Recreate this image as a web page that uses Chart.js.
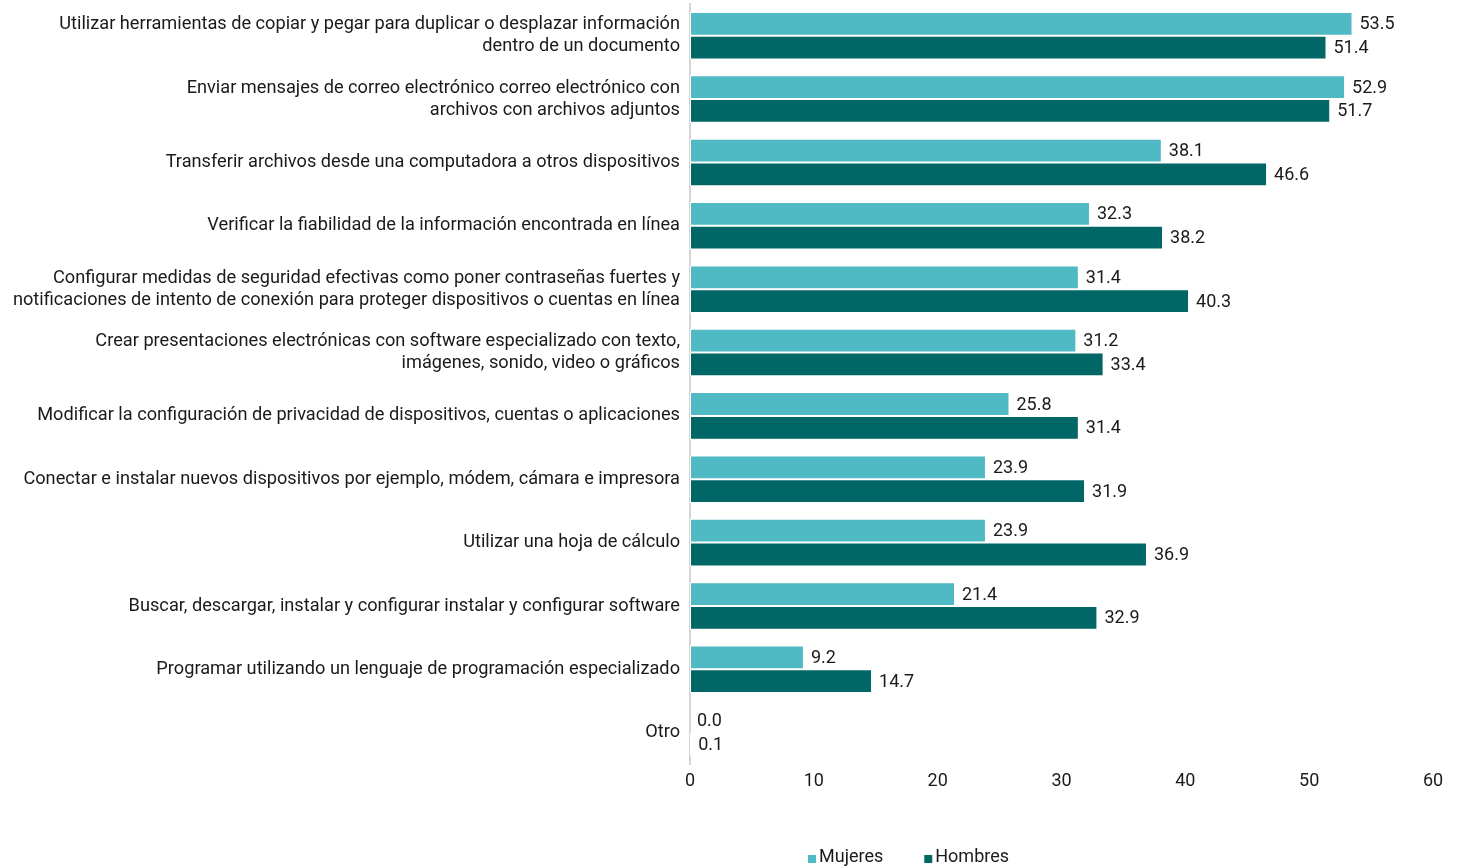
<!DOCTYPE html>
<html lang="es">
<head>
<meta charset="utf-8">
<script src="https://cdn.jsdelivr.net/npm/chart.js@4/dist/chart.umd.min.js"></script>
<style>
	html, body { margin: 0; padding: 0; background: #fff; }
	#wrap { width: 1460px; height: 867px; position: relative; }
</style>
</head>
<body>
<div id="wrap"><canvas id="habilidades"></canvas></div>
<script>
// categorías (con saltos de línea)
const categorias = [
	['Utilizar herramientas de copiar y pegar para duplicar o desplazar información', 'dentro de un documento'],
	['Enviar mensajes de correo electrónico correo electrónico con', 'archivos con archivos adjuntos'],
	'Transferir archivos desde una computadora a otros dispositivos',
	'Verificar la fiabilidad de la información encontrada en línea',
	['Configurar medidas de seguridad efectivas como poner contraseñas fuertes y', 'notificaciones de intento de conexión para proteger dispositivos o cuentas en línea'],
	['Crear presentaciones electrónicas con software especializado con texto,', 'imágenes, sonido, video o gráficos'],
	'Modificar la configuración de privacidad de dispositivos, cuentas o aplicaciones',
	'Conectar e instalar nuevos dispositivos por ejemplo, módem, cámara e impresora',
	'Utilizar una hoja de cálculo',
	'Buscar, descargar, instalar y configurar instalar y configurar software',
	'Programar utilizando un lenguaje de programación especializado',
	'Otro'
];

// porcentajes
const mujeres = [53.5, 52.9, 38.1, 32.3, 31.4, 31.2, 25.8, 23.9, 23.9, 21.4, 9.2, 0.0];
const hombres = [51.4, 51.7, 46.6, 38.2, 40.3, 33.4, 31.4, 31.9, 36.9, 32.9, 14.7, 0.1];

const ticksX = [0, 10, 20, 30, 40, 50, 60];

const fuente = "Roboto, 'Liberation Sans', sans-serif";
const colorTexto = '#1a1a1a';

// etiquetas de valor al final de cada barra
const etiquetasValor = {
	id: 'etiquetasValor',
	afterDatasetsDraw(chart) {
		const ctx = chart.ctx;
		ctx.save();
		ctx.font = '18px ' + fuente;
		ctx.fillStyle = colorTexto;
		ctx.textAlign = 'left';
		ctx.textBaseline = 'middle';
		chart.data.datasets.forEach((ds, i) => {
			chart.getDatasetMeta(i).data.forEach((bar, j) => {
				ctx.fillText(ds.data[j].toFixed(1), bar.x + 7, bar.y + 1);
			});
		});
		ctx.restore();
	}
};

// leyenda inferior con cuadritos pegados al texto
const leyendaAbajo = {
	id: 'leyendaAbajo',
	afterDraw(chart) {
		const ctx = chart.ctx;
		ctx.save();
		ctx.font = '18px ' + fuente;
		ctx.textBaseline = 'middle';
		ctx.textAlign = 'left';
		let x = 808;
		const y = 857;
		chart.data.datasets.forEach(ds => {
			ctx.fillStyle = ds.backgroundColor;
			ctx.fillRect(x, y - 2, 8, 8);
			ctx.fillStyle = colorTexto;
			ctx.fillText(ds.label, x + 11, y);
			x += 11 + ctx.measureText(ds.label).width + 41;
		});
		ctx.restore();
	}
};

const ctx = document.getElementById('habilidades');
let grafico = new Chart(ctx, {
	type: 'bar',
	data: {
		labels: categorias,
		datasets: [
			{
				label: 'Mujeres',
				data: mujeres,
				backgroundColor: '#4fbac4',
				borderColor: '#ffffff',
				borderWidth: 1,
				borderSkipped: false,
				categoryPercentage: 0.75,
				barPercentage: 1
			},
			{
				label: 'Hombres',
				data: hombres,
				backgroundColor: '#016766',
				borderColor: '#ffffff',
				borderWidth: 1,
				borderSkipped: false,
				categoryPercentage: 0.75,
				barPercentage: 1
			}
		]
	},
	options: {
		indexAxis: 'y',
		responsive: true,
		maintainAspectRatio: false,
		animation: false,
		layout: { padding: { top: 4, right: 27, left: 0, bottom: 69 } },
		scales: {
			x: {
				min: 0,
				max: 60,
				afterBuildTicks(axis) { axis.ticks = ticksX.map(v => ({ value: v })); },
				afterFit(axis) { axis.paddingLeft = 0; axis.paddingRight = 0; },
				grid: { display: false, drawTicks: false },
				border: { display: false },
				ticks: { color: colorTexto, font: { family: fuente, size: 18 }, padding: 6 }
			},
			y: {
				afterFit(axis) { axis.width = 690; axis.paddingTop = 0; axis.paddingBottom = 0; },
				grid: { display: false, drawTicks: false },
				border: { display: true, color: '#d4d4d4', width: 2 },
				ticks: { color: colorTexto, font: { family: fuente, size: 18.2, lineHeight: 1.22 }, padding: 10, autoSkip: false }
			}
		},
		plugins: {
			legend: { display: false },
			tooltip: { enabled: false }
		}
	},
	plugins: [etiquetasValor, leyendaAbajo]
});
</script>
</body>
</html>
